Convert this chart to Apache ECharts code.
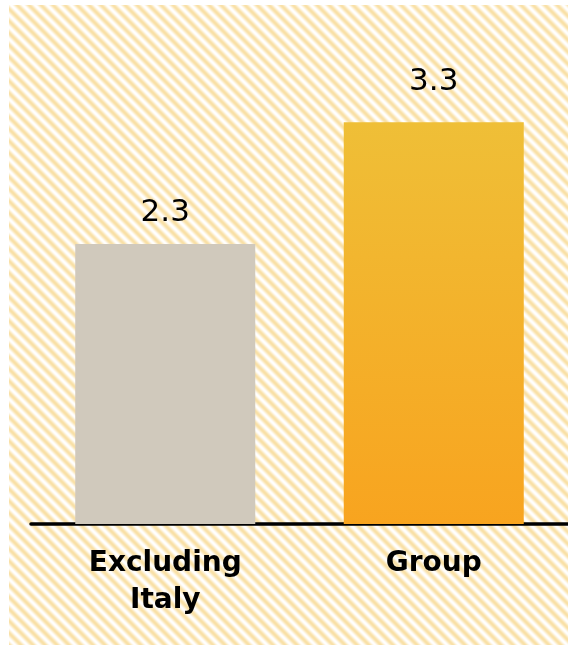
<!DOCTYPE html>
<html>
<head>
<meta charset="utf-8">
<script src="https://cdn.jsdelivr.net/npm/echarts@6/dist/echarts.min.js"></script>
<style>
  html, body { margin: 0; padding: 0; background: #ffffff; }
  #chart { width: 568px; height: 645px; }
</style>
</head>
<body>
<div id="chart"></div>
<script>
// Chart data
const categories = ['Excluding\nItaly', 'Group'];
const values = [2.3, 3.3];

// Soft diagonal hatch used as the panel background
function makeHatch() {
  const size = 24, period = 12;
  const c = document.createElement('canvas');
  c.width = size; c.height = size;
  const ctx = c.getContext('2d');
  const img = ctx.createImageData(size, size);
  const ink = [249, 224, 166];
  for (let y = 0; y < size; y++) {
    for (let x = 0; x < size; x++) {
      const phase = (((x - y) % period) + period) % period / period;
      const t = 0.5 + 0.5 * Math.cos(2 * Math.PI * phase);
      const i = (y * size + x) * 4;
      img.data[i]     = Math.round(255 + (ink[0] - 255) * t);
      img.data[i + 1] = Math.round(255 + (ink[1] - 255) * t);
      img.data[i + 2] = Math.round(255 + (ink[2] - 255) * t);
      img.data[i + 3] = 255;
    }
  }
  ctx.putImageData(img, 0, 0);
  return c;
}

const barColors = [
  '#D0C9BC',
  new echarts.graphic.LinearGradient(0, 0, 0, 1, [
    { offset: 0, color: '#EFBF37' },
    { offset: 1, color: '#F8A41F' }
  ])
];
const labelGap = [16, 25];

const chart = echarts.init(document.getElementById('chart'), null, { renderer: 'canvas' });
chart.setOption({
  animation: false,
  backgroundColor: '#ffffff',
  graphic: [{
    type: 'rect',
    z: -10,
    silent: true,
    shape: { x: 9, y: 5, width: 559, height: 640 },
    style: { fill: { image: makeHatch(), repeat: 'repeat' } }
  }],
  grid: { left: 31, right: -3, top: 37, bottom: 121, containLabel: false },
  xAxis: {
    type: 'category',
    data: categories,
    axisTick: { show: false },
    axisLine: { show: true, lineStyle: { color: '#000000', width: 3.5 } },
    axisLabel: {
      interval: 0,
      margin: 21,
      color: '#000000',
      fontFamily: 'DejaVu Sans',
      fontWeight: 'bold',
      fontSize: 28,
      lineHeight: 37
    }
  },
  yAxis: {
    type: 'value',
    min: 0,
    max: 4,
    show: false,
    splitLine: { show: false }
  },
  series: [{
    type: 'bar',
    barWidth: 180,
    data: values.map((v, i) => ({
      value: v,
      itemStyle: { color: barColors[i] },
      label: { distance: labelGap[i] }
    })),
    label: {
      show: true,
      position: 'top',
      color: '#000000',
      fontFamily: 'DejaVu Sans',
      fontSize: 31,
      formatter: p => p.value.toFixed(1)
    }
  }]
});
</script>
</body>
</html>
